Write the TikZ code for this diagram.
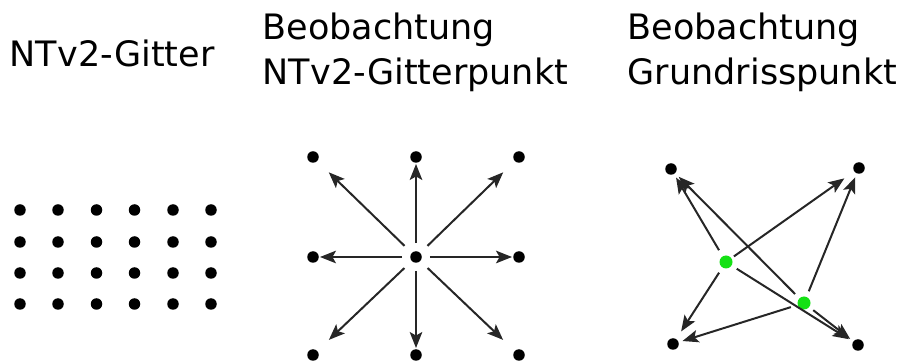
\documentclass[tikz,border=0pt]{standalone}
\usepackage{fontspec}
\setmainfont{DejaVu Sans}
\usetikzlibrary{arrows.meta}
\definecolor{ptgreen}{RGB}{20,225,20}
\begin{document}
\begin{tikzpicture}[x=1pt,y=-1pt,
  dot/.style={circle,fill=black,inner sep=0pt,minimum size=11.5pt},
  gdot/.style={circle,fill=ptgreen,inner sep=0pt,minimum size=13pt},
  title/.style={anchor=base west,inner sep=0pt,align=left,
    font=\fontsize{35}{45}\selectfont},
  obs/.style={draw=black!85,line width=2pt,
    -{Stealth[length=16pt,width=12.5pt,inset=3.5pt]}}]
\useasboundingbox (0,0) rectangle (906,363);

% titles (base anchor sits on the last line)
\node[title] (t1) at (9.6,67) {NTv2-Gitter};
\node[title] (t2) at (262.6,85) {Beobachtung\\NTv2-Gitterpunkt};
\node[title] (t3) at (627.6,85) {Beobachtung\\Grundrisspunkt};

% NTv2 grid
\foreach \i/\x in {1/20,2/58,3/96.5,4/134.5,5/173,6/211}
  \foreach \j/\y in {1/210,2/242,3/273,4/304}
    \node[dot] (g\i\j) at (\x,\y) {};

% observation at a grid point
\node[dot] (c) at (416,257) {};
\node[dot] (nw) at (313,157) {};
\node[dot] (n)  at (416,157) {};
\node[dot] (ne) at (519,157) {};
\node[dot] (w)  at (313,257) {};
\node[dot] (e)  at (519,257) {};
\node[dot] (sw) at (313,355) {};
\node[dot] (s)  at (416,355) {};
\node[dot] (se) at (519,355) {};
\foreach \t in {n,s,w,e}
  \draw[obs,shorten <=8pt,shorten >=1pt] (c) -- (\t);
\foreach \t in {nw,ne,sw,se}
  \draw[obs,shorten <=10pt,shorten >=16pt] (c) -- (\t);

% observation at ground plan points
\node[dot] (a) at (671,169) {};
\node[dot] (b) at (859,168) {};
\node[dot] (d) at (673,344) {};
\node[dot] (f) at (858,345) {};
\node[gdot] (p) at (726,262) {};
\node[gdot] (q) at (804,303) {};
\draw[obs,shorten <=7pt,shorten >=4pt]  (p) -- (a);
\draw[obs,shorten <=3pt,shorten >=12pt] (p) -- (b);
\draw[obs,shorten <=6pt,shorten >=9pt]  (p) -- (d);
\draw[obs,shorten <=6pt,shorten >=5pt]  (p) -- (f);
\draw[obs,shorten <=6pt,shorten >=5pt]  (q) -- (a);
\draw[obs,shorten <=6pt,shorten >=4pt]  (q) -- (b);
\draw[obs,shorten <=7pt,shorten >=4pt]  (q) -- (d);
\draw[obs,shorten <=5pt,shorten >=4pt]  (q) -- (f);
\end{tikzpicture}
\end{document}
